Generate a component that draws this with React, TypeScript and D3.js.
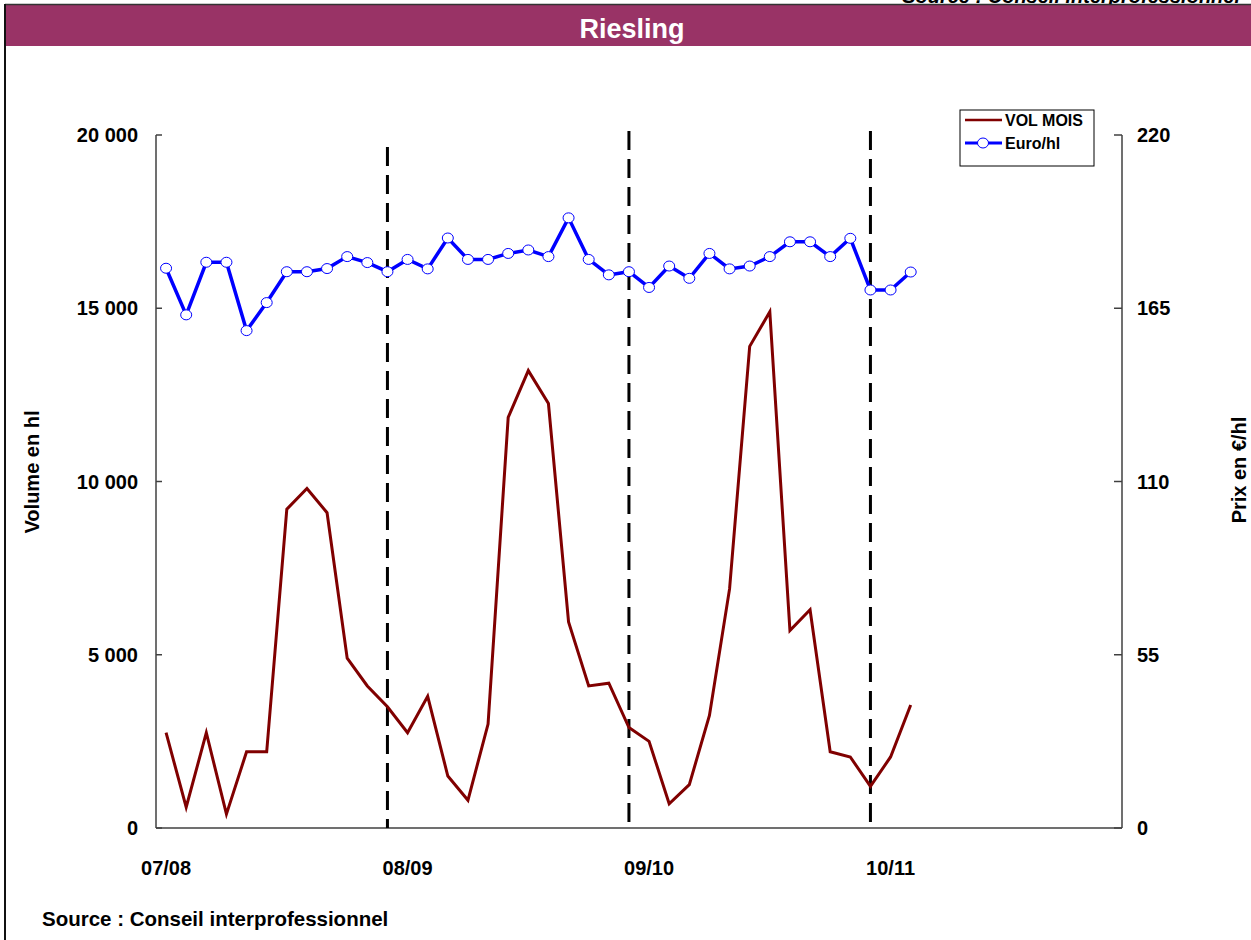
import React from "react";
import * as d3 from "d3";

const campaigns = ["07/08", "08/09", "09/10", "10/11"];
const monthsPerCampaign = 12;
const separatorMonths = [11, 23, 35];

const volMois = [
  2750, 600, 2750, 400, 2200, 2200, 9200, 9800, 9100, 4900, 4100, 3500,
  2750, 3800, 1500, 800, 3000, 11850, 13200, 12250, 5950, 4100, 4180, 2900,
  2500, 700, 1250, 3250, 6900, 13900, 14900, 5700, 6300, 2200, 2050, 1200,
  2050, 3550,
];

const euroHl = [
  177.7, 162.9, 179.6, 179.6, 157.9, 166.8, 176.6, 176.6, 177.6, 181.4, 179.5, 176.6,
  180.5, 177.5, 187.3, 180.5, 180.5, 182.4, 183.5, 181.4, 193.7, 180.5, 175.6, 176.6,
  171.6, 178.4, 174.5, 182.4, 177.5, 178.4, 181.4, 186.1, 186.1, 181.4, 187.2, 170.8,
  170.8, 176.5,
];

const leftTicks = [0, 5000, 10000, 15000, 20000];
const rightTicks = [0, 55, 110, 165, 220];

const FONT = "'Liberation Sans', Arial, sans-serif";

export default function App() {
  const W = 1251;
  const H = 940;
  const plot = { left: 156, right: 1122, top: 135, bottom: 828 };
  const nMonths = campaigns.length * monthsPerCampaign;
  const months = d3.range(nMonths);

  const x = d3.scaleBand<number>().domain(months).range([plot.left, plot.right]).padding(0);
  const cx = (i: number) => (x(i) as number) + x.bandwidth() / 2;
  const yL = d3.scaleLinear().domain([0, 20000]).range([plot.bottom, plot.top]);
  const yR = d3.scaleLinear().domain([0, 220]).range([plot.bottom, plot.top]);

  const fmt = (v: number) => d3.format(",")(v).replace(/,/g, " ");

  const volLine = d3
    .line<number>()
    .x((_, i) => cx(i))
    .y((d) => yL(d))(volMois) as string;
  const priceLine = d3
    .line<number>()
    .x((_, i) => cx(i))
    .y((d) => yR(d))(euroHl) as string;

  const dashTops = [147, 131, 131];

  return (
    <svg
      width={W}
      height={H}
      style={{ position: "absolute", left: 0, top: 0, background: "#fff" }}
      fontFamily={FONT}
      fontWeight="bold"
    >
      <rect x={0} y={0} width={W} height={H} fill="#fff" />
      {/* top source text (clipped like the reference) */}
      <text x={1240} y={3} textAnchor="end" fontSize={20} fontStyle="italic" fill="#000">
        Source : Conseil interprofessionnel
      </text>
      {/* frame */}
      <rect x={6} y={5} width={W} height={41} fill="#993366" />
      <line x1={5} y1={4.5} x2={W} y2={4.5} stroke="#333" strokeWidth={1.5} />
      <line x1={5} y1={4} x2={5} y2={H} stroke="#111" strokeWidth={2} />
      <text x={632} y={38} textAnchor="middle" fontSize={27} fill="#fff">
        Riesling
      </text>

      {/* axes */}
      <line x1={plot.left} y1={plot.top} x2={plot.left} y2={plot.bottom} stroke="#404040" strokeWidth={1.5} />
      <line x1={plot.right} y1={plot.top} x2={plot.right} y2={plot.bottom} stroke="#404040" strokeWidth={1.5} />
      <line x1={plot.left} y1={plot.bottom} x2={plot.right} y2={plot.bottom} stroke="#404040" strokeWidth={1.5} />
      {leftTicks.map((t) => (
        <g key={"l" + t}>
          <line x1={plot.left} x2={plot.left + 6} y1={yL(t)} y2={yL(t)} stroke="#404040" strokeWidth={1.5} />
          <text x={138} y={yL(t)} textAnchor="end" dominantBaseline="central" fontSize={20}>
            {fmt(t)}
          </text>
        </g>
      ))}
      {rightTicks.map((t) => (
        <g key={"r" + t}>
          <line x1={plot.right - 8} x2={plot.right} y1={yR(t)} y2={yR(t)} stroke="#404040" strokeWidth={1.5} />
          <text x={1137} y={yR(t)} textAnchor="start" dominantBaseline="central" fontSize={20}>
            {fmt(t)}
          </text>
        </g>
      ))}
      {campaigns.map((c, k) => (
        <text key={c} x={cx(k * monthsPerCampaign)} y={868} textAnchor="middle" dominantBaseline="central" fontSize={20}>
          {c}
        </text>
      ))}
      <text transform="translate(32,472) rotate(-90)" textAnchor="middle" dominantBaseline="central" fontSize={20}>
        Volume en hl
      </text>
      <text transform="translate(1239,470) rotate(-90)" textAnchor="middle" dominantBaseline="central" fontSize={20}>
        Prix en €/hl
      </text>

      {/* separators */}
      {separatorMonths.map((m, k) => (
        <line
          key={"s" + m}
          x1={cx(m)}
          x2={cx(m)}
          y1={dashTops[k]}
          y2={plot.bottom}
          stroke="#000"
          strokeWidth={3}
          strokeDasharray="19,9"
        />
      ))}

      {/* series */}
      <path d={volLine} fill="none" stroke="#800000" strokeWidth={3} strokeLinejoin="miter" />
      <path d={priceLine} fill="none" stroke="#0000ff" strokeWidth={3.5} />
      {euroHl.map((v, i) => (
        <ellipse key={"m" + i} cx={cx(i)} cy={yR(v)} rx={5.5} ry={5} fill="#fff" stroke="#0000ff" strokeWidth={1} />
      ))}

      {/* legend */}
      <rect x={960} y={110} width={134} height={56} fill="#fff" stroke="#000" strokeWidth={1} />
      <line x1={965} x2={1002} y1={120} y2={120} stroke="#800000" strokeWidth={2.5} />
      <text x={1005} y={120} dominantBaseline="central" fontSize={16}>
        VOL MOIS
      </text>
      <line x1={965} x2={1002} y1={143} y2={143} stroke="#0000ff" strokeWidth={3} />
      <ellipse cx={983} cy={143} rx={5.5} ry={5} fill="#fff" stroke="#0000ff" strokeWidth={1} />
      <text x={1005} y={143} dominantBaseline="central" fontSize={16}>
        Euro/hl
      </text>

      {/* bottom source */}
      <text x={42} y={926} fontSize={20.5}>
        Source : Conseil interprofessionnel
      </text>
    </svg>
  );
}
